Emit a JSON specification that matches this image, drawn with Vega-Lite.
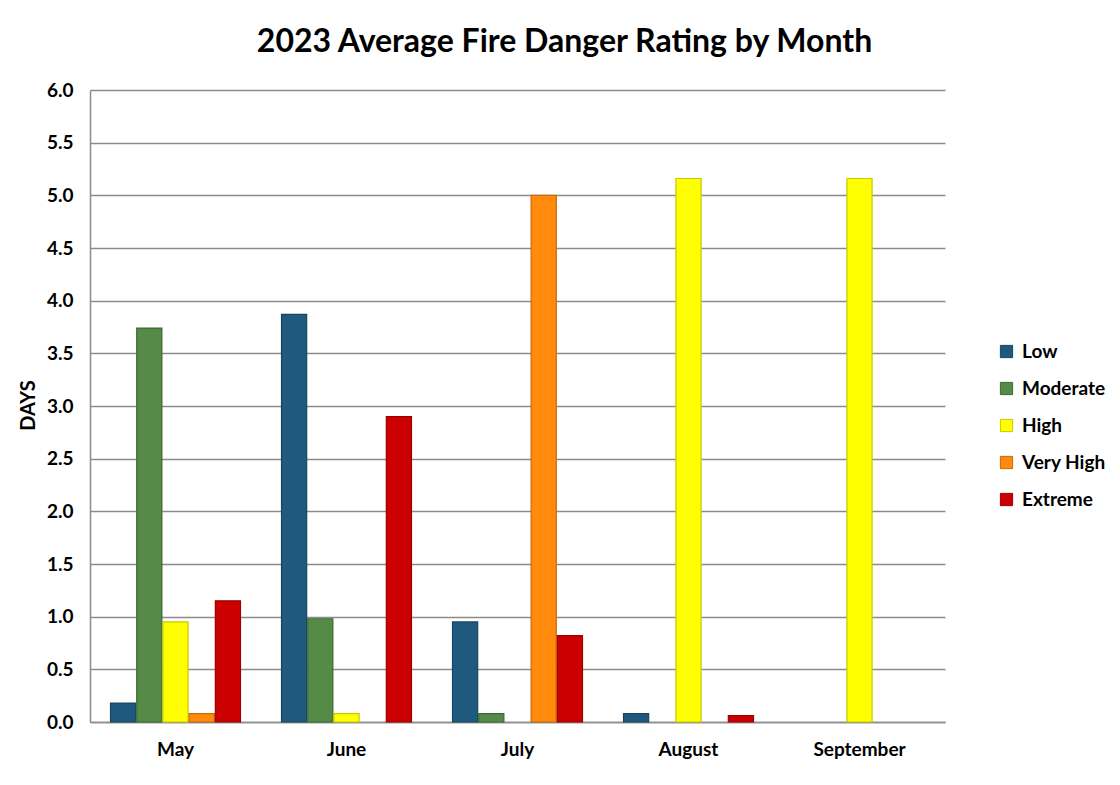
{
  "$schema": "https://vega.github.io/schema/vega-lite/v6.json",
  "width": 855,
  "height": 632,
  "autosize": {"type": "none"},
  "padding": {"left": 90, "top": 90, "right": 175, "bottom": 63},
  "background": "white",
  "title": {
    "text": "2023 Average Fire Danger Rating by Month",
    "font": "Lato",
    "fontSize": 32,
    "fontWeight": "bold",
    "color": "#000000",
    "anchor": "middle",
    "dx": 47,
    "offset": 22
  },
  "config": {
    "view": {"stroke": null},
    "font": "Lato"
  },
  "data": {
    "values": [
      {"month": "May", "rating": "Low", "days": 0.18},
      {"month": "May", "rating": "Moderate", "days": 3.74},
      {"month": "May", "rating": "High", "days": 0.95},
      {"month": "May", "rating": "Very High", "days": 0.08},
      {"month": "May", "rating": "Extreme", "days": 1.15},
      {"month": "June", "rating": "Low", "days": 3.87},
      {"month": "June", "rating": "Moderate", "days": 0.98},
      {"month": "June", "rating": "High", "days": 0.08},
      {"month": "June", "rating": "Very High", "days": 0},
      {"month": "June", "rating": "Extreme", "days": 2.9},
      {"month": "July", "rating": "Low", "days": 0.95},
      {"month": "July", "rating": "Moderate", "days": 0.08},
      {"month": "July", "rating": "High", "days": 0},
      {"month": "July", "rating": "Very High", "days": 5.0},
      {"month": "July", "rating": "Extreme", "days": 0.82},
      {"month": "August", "rating": "Low", "days": 0.08},
      {"month": "August", "rating": "Moderate", "days": 0},
      {"month": "August", "rating": "High", "days": 5.16},
      {"month": "August", "rating": "Very High", "days": 0},
      {"month": "August", "rating": "Extreme", "days": 0.06},
      {"month": "September", "rating": "Low", "days": 0},
      {"month": "September", "rating": "Moderate", "days": 0},
      {"month": "September", "rating": "High", "days": 5.16},
      {"month": "September", "rating": "Very High", "days": 0},
      {"month": "September", "rating": "Extreme", "days": 0}
    ]
  },
  "transform": [{"filter": "datum.days > 0"}],
  "mark": {"type": "bar", "strokeWidth": 1.2},
  "encoding": {
    "x": {
      "field": "month",
      "type": "nominal",
      "sort": ["May", "June", "July", "August", "September"],
      "scale": {"domain": ["May", "June", "July", "August", "September"], "paddingInner": 0.24, "paddingOuter": 0.12},
      "axis": {
        "title": null,
        "labelAngle": 0,
        "labelFont": "Lato",
        "labelFontSize": 19,
        "labelFontWeight": "bold",
        "labelColor": "#000000",
        "labelPadding": 18,
        "ticks": false,
        "domainColor": "#8c8c8c",
        "domainWidth": 1.5
      }
    },
    "xOffset": {
      "field": "rating",
      "type": "nominal",
      "scale": {"domain": ["Low", "Moderate", "High", "Very High", "Extreme"], "paddingInner": 0.04}
    },
    "y": {
      "field": "days",
      "type": "quantitative",
      "scale": {"domain": [0, 6], "nice": false},
      "axis": {
        "title": "DAYS",
        "titleFont": "Lato",
        "titleFontSize": 20,
        "titleFontWeight": "bold",
        "titleColor": "#000000",
        "titleX": -62,
        "titleY": 315,
        "titleAlign": "center",
        "titleBaseline": "middle",
        "values": [0, 0.5, 1, 1.5, 2, 2.5, 3, 3.5, 4, 4.5, 5, 5.5, 6],
        "format": ".1f",
        "labelFont": "Lato",
        "labelFontSize": 19,
        "labelFontWeight": "bold",
        "labelColor": "#000000",
        "labelPadding": 17,
        "ticks": false,
        "grid": true,
        "gridColor": "#8c8c8c",
        "gridWidth": 1.5,
        "domainColor": "#8c8c8c",
        "domainWidth": 1.5
      }
    },
    "color": {
      "field": "rating",
      "type": "nominal",
      "scale": {
        "domain": ["Low", "Moderate", "High", "Very High", "Extreme"],
        "range": ["#1F5A7E", "#558B47", "#FFFF00", "#FF8A0C", "#CC0000"]
      },
      "legend": {
        "title": null,
        "orient": "none",
        "legendX": 907,
        "legendY": 252,
        "symbolType": "square",
        "symbolSize": 150,
        "symbolStrokeWidth": 1,
        "labelFont": "Lato",
        "labelFontSize": 19,
        "labelFontWeight": "bold",
        "labelColor": "#000000",
        "labelOffset": 6,
        "rowPadding": 17
      }
    },
    "stroke": {
      "field": "rating",
      "type": "nominal",
      "scale": {
        "domain": ["Low", "Moderate", "High", "Very High", "Extreme"],
        "range": ["#174560", "#3D6934", "#C8C800", "#C86A05", "#9A0000"]
      },
      "legend": null
    }
  }
}
